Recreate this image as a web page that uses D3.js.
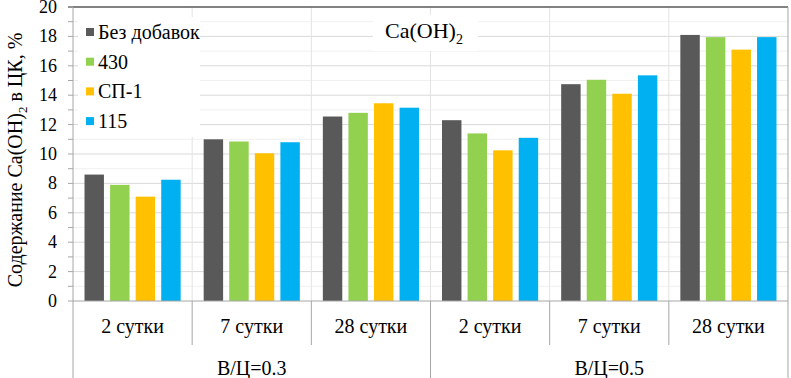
<!DOCTYPE html>
<html>
<head>
<meta charset="utf-8">
<script src="https://cdn.jsdelivr.net/npm/d3@7"></script>
<style>
  body { margin: 0; background: #fff; }
  svg text { font-family: "Liberation Serif", "Times New Roman", Times, serif; }
</style>
</head>
<body>
<svg width="791" height="378"></svg>
<script>
const groups = ["В/Ц=0.3", "В/Ц=0.5"];
const periods = ["2 сутки", "7 сутки", "28 сутки"];
const series = ["Без добавок", "430", "СП-1", "115"];
const colors = ["#595959", "#92d050", "#ffc000", "#00b0f0"];

// values per category (group x period), order as series
const noAdd = [8.6, 11.0, 12.55, 12.3, 14.75, 18.1];
const s430 = [7.9, 10.85, 12.8, 11.4, 15.05, 17.95];
const sp1 = [7.1, 10.05, 13.45, 10.25, 14.1, 17.1];
const s115 = [8.25, 10.8, 13.15, 11.1, 15.35, 17.95];
const values = [noAdd, s430, sp1, s115];

const yTicks = [0, 2, 4, 6, 8, 10, 12, 14, 16, 18, 20];

const margin = { top: 7, right: 3, bottom: 77, left: 73 };
const width = 791 - margin.left - margin.right;
const height = 378 - margin.top - margin.bottom;
const serif = "'Liberation Serif', 'Times New Roman', serif";

const cats = [];
groups.forEach(g => periods.forEach(p => cats.push(g + "|" + p)));

const svg = d3.select("svg");
const g = svg.append("g").attr("transform", `translate(${margin.left},${margin.top})`);

const x0 = d3.scaleBand().domain(cats).range([0, width]);
const x1 = d3.scaleBand().domain(series).range([0, x0.bandwidth()])
	.paddingInner(0.24).paddingOuter(0.45);
const y = d3.scaleLinear().domain([0, 20]).range([height, 0]);

// minor + major gridlines
g.selectAll(".minor")
	.data(d3.range(1, 20, 2))
	.join("line")
	.attr("x1", 0).attr("x2", width)
	.attr("y1", d => y(d)).attr("y2", d => y(d))
	.attr("stroke", "#f0f0f0");
g.selectAll(".major")
	.data(yTicks.slice(1, -1))
	.join("line")
	.attr("x1", 0).attr("x2", width)
	.attr("y1", d => y(d)).attr("y2", d => y(d))
	.attr("stroke", "#d9d9d9");

// vertical gridlines inside the plot
g.selectAll(".vgrid")
	.data(cats.slice(1))
	.join("line")
	.attr("x1", d => x0(d)).attr("x2", d => x0(d))
	.attr("y1", 0).attr("y2", height)
	.attr("stroke", "#e3e3e3");

// separators below the axis
g.selectAll(".vsep")
	.data(cats.slice(1))
	.join("line")
	.attr("x1", d => x0(d)).attr("x2", d => x0(d))
	.attr("y1", height)
	.attr("y2", (d, i) => (i + 1) % periods.length === 0 ? 378 - margin.top : height + 44)
	.attr("stroke", "#a6a6a6");

// top border and right edge
g.append("line")
	.attr("x1", -5).attr("x2", width).attr("y1", 0).attr("y2", 0)
	.attr("stroke", "#595959").attr("stroke-width", 1.5);
g.append("line")
	.attr("x1", width).attr("x2", width).attr("y1", 0).attr("y2", 378 - margin.top)
	.attr("stroke", "#a6a6a6");

// bars
const cat = g.selectAll(".cat")
	.data(cats)
	.join("g")
	.attr("transform", d => `translate(${x0(d)},0)`);

cat.selectAll("rect")
	.data((d, i) => series.map((s, j) => ({ s, j, v: values[j][i] })))
	.join("rect")
	.attr("x", d => x1(d.s))
	.attr("width", x1.bandwidth())
	.attr("y", d => y(d.v))
	.attr("height", d => height - y(d.v))
	.attr("fill", d => colors[d.j]);

// baseline + left axis
g.append("line")
	.attr("x1", 0).attr("x2", width).attr("y1", height).attr("y2", height)
	.attr("stroke", "#a6a6a6");
g.append("line")
	.attr("x1", 0).attr("x2", 0).attr("y1", 0).attr("y2", 378 - margin.top)
	.attr("stroke", "#a6a6a6");

g.selectAll(".tick")
	.data(d3.range(0, 21, 1))
	.join("line")
	.attr("x1", -5).attr("x2", 0)
	.attr("y1", d => y(d)).attr("y2", d => y(d))
	.attr("stroke", "#a6a6a6");

g.selectAll(".ylab")
	.data(yTicks)
	.join("text")
	.attr("x", -16)
	.attr("y", d => y(d) + 6)
	.attr("text-anchor", "end")
	.style("font-size", "18px")
	.text(d => d);

// category labels
g.selectAll(".clab")
	.data(cats)
	.join("text")
	.attr("x", d => x0(d) + x0.bandwidth() / 2)
	.attr("y", height + 32)
	.attr("text-anchor", "middle")
	.style("font-size", "20px")
	.text(d => d.split("|")[1]);

g.selectAll(".glab")
	.data(groups)
	.join("text")
	.attr("x", (d, i) => x0(d + "|" + periods[0]) + x0.bandwidth() * periods.length / 2)
	.attr("y", height + 74)
	.attr("text-anchor", "middle")
	.style("font-size", "20px")
	.text(d => d);

// title
g.append("rect")
	.attr("x", 300).attr("y", 8).attr("width", 105).attr("height", 36)
	.attr("fill", "#fff");
const title = g.append("text")
	.attr("x", 351)
	.attr("y", 31)
	.attr("text-anchor", "middle")
	.style("font-size", "22px");
title.append("tspan").text("Ca(OH)");
title.append("tspan").attr("dy", 6).style("font-size", "14px").text("2");

// legend
const legend = g.append("g").attr("transform", "translate(5,10)");
legend.append("rect")
	.attr("width", 122).attr("height", 120)
	.attr("fill", "#fff");
const li = legend.selectAll(".li")
	.data(series)
	.join("g")
	.attr("transform", (d, i) => `translate(8,${15 + i * 29.7})`);
li.append("rect")
	.attr("x", 0).attr("y", -4)
	.attr("width", 8).attr("height", 8)
	.attr("fill", (d, i) => colors[i]);
li.append("text")
	.attr("x", 12)
	.attr("y", 7)
	.style("font-size", "20px")
	.text(d => d);

// y axis title
const yt = svg.append("text")
	.attr("transform", `translate(22,${margin.top + height / 2 + 6}) rotate(-90)`)
	.attr("text-anchor", "middle")
	.style("font-size", "20px");
yt.append("tspan").text("Содержание Ca(OH)");
yt.append("tspan").attr("dy", 5).style("font-size", "13px").text("2");
yt.append("tspan").attr("dy", -5).text(" в ЦК, %");

svg.selectAll("text").style("font-family", serif);
</script>
</body>
</html>
